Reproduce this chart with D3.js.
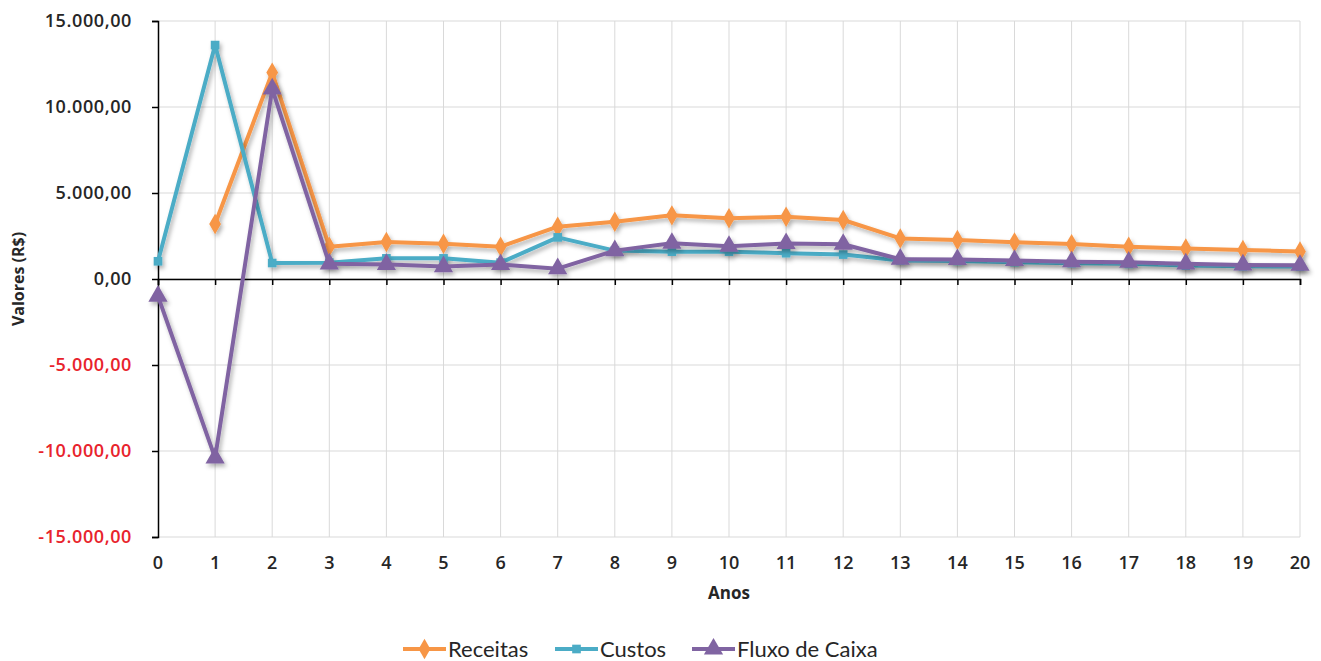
<!DOCTYPE html>
<html>
<head>
<meta charset="utf-8">
<script src="https://cdn.jsdelivr.net/npm/d3@7"></script>
<style>
  html, body { margin: 0; padding: 0; background: #ffffff; }
  svg { display: block; font-family: "Open Sans", "Liberation Sans", sans-serif; }
</style>
</head>
<body>
<svg id="chart" width="1321" height="661"></svg>
<script>
// Years on the horizontal axis
const anos = d3.range(0, 21);

// Series values (R$)
const receitas = [null, 3200, 12000, 1880, 2150, 2050, 1880, 3040, 3330, 3700, 3530, 3620, 3430, 2360, 2270, 2130, 2030, 1880, 1780, 1690, 1600];
const custos   = [1030, 13600, 930, 950, 1200, 1200, 950, 2420, 1650, 1590, 1590, 1500, 1420, 1080, 1050, 980, 920, 880, 780, 740, 720];
const fluxo    = [-1000, -10400, 11050, 880, 850, 720, 840, 600, 1650, 2080, 1900, 2060, 2020, 1150, 1130, 1080, 1000, 980, 880, 820, 800];

// Axis ticks
const yTicks = [15000, 10000, 5000, 0, -5000, -10000, -15000];

const seriesNames = ["Receitas", "Custos", "Fluxo de Caixa"];
const seriesColors = ["#f79646", "#4bacc6", "#8064a2"];

const svg = d3.select("#chart");
const margin = { left: 158, right: 21, top: 21, bottom: 124 };
const W = 1321, H = 661;

const x = d3.scaleLinear().domain([0, 20]).range([margin.left, W - margin.right]);
const y = d3.scaleLinear().domain([-15000, 15000]).range([H - margin.bottom, margin.top]);

const locale = d3.formatLocale({ decimal: ",", thousands: ".", grouping: [3], currency: ["R$", ""], minus: "-" });
const fmt = locale.format(",.2f");

// Soft shadow under the series lines
const defs = svg.append("defs");
const filt = defs.append("filter").attr("id", "shadow").attr("x", "-10%").attr("y", "-10%").attr("width", "120%").attr("height", "130%");
filt.append("feDropShadow").attr("dx", 2).attr("dy", 3).attr("stdDeviation", 2)
  .attr("flood-color", "#000").attr("flood-opacity", 0.3);

// Grid
const grid = svg.append("g");
grid.selectAll("line.h").data(yTicks).join("line")
  .attr("x1", x(0)).attr("x2", x(20))
  .attr("y1", d => y(d)).attr("y2", d => y(d))
  .attr("stroke", "#d9d9d9").attr("stroke-width", 1);
grid.selectAll("line.v").data(anos.slice(1)).join("line")
  .attr("x1", d => x(d)).attr("x2", d => x(d))
  .attr("y1", y(15000)).attr("y2", y(-15000))
  .attr("stroke", "#d9d9d9").attr("stroke-width", 1);

// Y axis
const yAxis = svg.append("g").attr("transform", `translate(${x(0)},0)`)
  .call(d3.axisLeft(y).tickValues(yTicks).tickFormat(fmt).tickSize(6).tickPadding(20));
yAxis.select(".domain").attr("stroke", "#000").attr("stroke-width", 1.5);
yAxis.selectAll(".tick line").attr("stroke", "#000").attr("stroke-width", 1.5);
yAxis.selectAll(".tick text")
  .attr("font-size", 18).attr("font-weight", 600)
  .attr("letter-spacing", 0.6)
  .attr("font-family", "'Open Sans', sans-serif")
  .attr("fill", d => d < 0 ? "#e8232c" : "#262626");

// X axis on the zero line
const xAxis = svg.append("g").attr("transform", `translate(0,${y(0)})`)
  .call(d3.axisBottom(x).tickValues(anos).tickFormat(d3.format("d")).tickSize(6));
xAxis.select(".domain").attr("stroke", "#000").attr("stroke-width", 1.5);
xAxis.selectAll(".tick line").attr("stroke", "#000").attr("stroke-width", 1.5);
xAxis.selectAll(".tick text").remove();

// X tick labels below the plot
svg.append("g").selectAll("text").data(anos).join("text")
  .attr("x", d => x(d)).attr("y", y(-15000) + 32)
  .attr("text-anchor", "middle")
  .attr("font-size", 18).attr("font-weight", 600)
  .attr("fill", "#262626")
  .text(d => d);

// Axis titles
svg.append("text")
  .attr("x", (x(0) + x(20)) / 2).attr("y", 599)
  .attr("text-anchor", "middle")
  .attr("font-size", 17).attr("font-weight", 700).attr("fill", "#262626")
  .text("Anos");
svg.append("text")
  .attr("transform", `translate(24,${y(0)}) rotate(-90)`)
  .attr("text-anchor", "middle")
  .attr("font-size", 16).attr("font-weight", 700).attr("fill", "#262626")
  .text("Valores (R$)");

// Series
const allSeries = [receitas, custos, fluxo];
const line = d3.line()
  .defined(d => d.v !== null)
  .x(d => x(d.a)).y(d => y(d.v));

const symbols = [d3.symbolDiamond, d3.symbolSquare, d3.symbolTriangle];
const symSizes = [120, 75, 160];

allSeries.forEach((vals, i) => {
  const pts = anos.map((a, k) => ({ a, v: vals[k] }));
  const g = svg.append("g").attr("filter", "url(#shadow)");
  g.append("path").datum(pts)
    .attr("d", line)
    .attr("fill", "none")
    .attr("stroke", seriesColors[i])
    .attr("stroke-width", 4)
    .attr("stroke-linejoin", "round");
  g.selectAll("path.m").data(pts.filter(p => p.v !== null)).join("path")
    .attr("class", "m")
    .attr("transform", d => `translate(${x(d.a)},${y(d.v)})`)
    .attr("d", d3.symbol().type(symbols[i]).size(symSizes[i]))
    .attr("fill", seriesColors[i]);
});

// Legend
const legendX = [403, 555, 692];
const legend = svg.append("g");
seriesNames.forEach((name, i) => {
  const lg = legend.append("g").attr("transform", `translate(${legendX[i]},649)`);
  lg.append("line").attr("x1", 0).attr("x2", 43).attr("y1", 0).attr("y2", 0)
    .attr("stroke", seriesColors[i]).attr("stroke-width", 4);
  lg.append("path").attr("transform", "translate(21.5,0)")
    .attr("d", d3.symbol().type(symbols[i]).size(symSizes[i]))
    .attr("fill", seriesColors[i]);
  lg.append("text").attr("x", 45).attr("y", 8)
    .attr("font-size", 22).attr("fill", "#262626")
    .attr("font-family", "Lato, 'Open Sans', sans-serif")
    .text(name);
});
</script>
</body>
</html>
